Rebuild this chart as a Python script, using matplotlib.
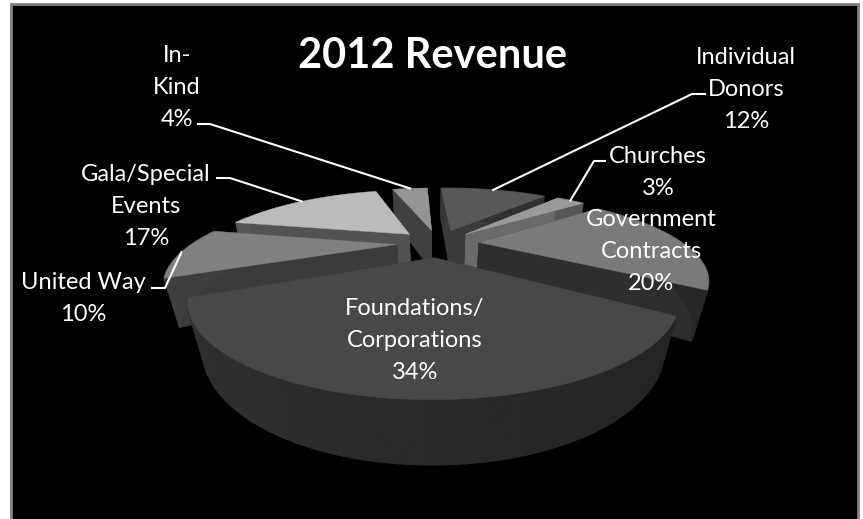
import numpy as np
import matplotlib
matplotlib.use("Agg")
import matplotlib.pyplot as plt
from matplotlib.patches import Polygon, Rectangle

labels = ["Individual\nDonors", "Churches", "Government\nContracts",
          "Foundations/\nCorporations", "United Way", "Gala/Special\nEvents", "In-\nKind"]
shares = [12, 3, 20, 34, 10, 17, 4]

top_colors = ["#585858", "#9a9a9a", "#7a7a7a", "#484848", "#808080", "#bbbbbb", "#959595"]
cut_colors = ["#3a3a3a", "#6a6a6a", "#2e2e2e", "#2c2c2c", "#3b3b3b", "#525252", "#404040"]
rim_colors = ["#3c3c3c", "#6e6e6e", "#343434", "#2e2e2e", "#3b3b3b", "#525252", "#4c4c4c"]

# first baseline of each label, and where its leader line leaves the text
label_x = [746, 658, 651, 415, 83, 146, 177]
label_y = [64, 163, 226, 315, 289, 181, 62]
leader_start = [(705, 94), (605, 161), None, None, (152, 288), (217, 178), (198, 124)]
leader_elbow = [(692, 94), (594, 161), None, None, (165, 288), (230, 178), (210, 124)]

# camera and pie shape
start_angle = -2.5
explode = 0.2
cx, cy = 438, 243
rx, rv = 204, 68
persp = 0.4
depth_h, depth_w = 45, 0.05


def project(x, y, lower=False):
    x = np.asarray(x, float)
    y = np.asarray(y, float)
    w = 1 + persp * y + (depth_w if lower else 0)
    sy = -rv * y + (depth_h if lower else 0)
    return np.column_stack([cx + rx * x / w, cy + sy / w])


def shade(color, factor):
    v = int(color[1:3], 16) * factor
    return (v / 255, v / 255, v / 255)


fig = plt.figure(figsize=(8.63, 5.19), dpi=100, facecolor="white")
ax = fig.add_axes([0, 0, 1, 1])
ax.set_xlim(0, 863)
ax.set_ylim(519, 0)
ax.axis("off")
ax.add_patch(Rectangle((11, 4), 847, 530, fc="black", ec="#808080", lw=2))

edges = start_angle + np.cumsum([0] + shares) * 3.6
mids = (edges[:-1] + edges[1:]) / 2

# back slices are painted first so the nearer ones cover them
order = np.argsort(-np.cos(np.radians(mids)))
for i in order:
    mid = np.radians(mids[i])
    ax0 = explode * np.sin(mid)
    ay0 = explode * np.cos(mid)
    th = np.radians(np.linspace(edges[i], edges[i + 1], int(shares[i] * 3) + 4))
    px = ax0 + np.sin(th)
    py = ay0 + np.cos(th)

    # the two cut faces, farther one first
    cuts = [(px[0], py[0]), (px[-1], py[-1])]
    cuts.sort(key=lambda p: -p[1])
    for ex, ey in cuts:
        top = project([ax0, ex], [ay0, ey])
        low = project([ex, ax0], [ey, ay0], lower=True)
        ax.add_patch(Polygon(np.vstack([top, low]), fc=cut_colors[i], ec=cut_colors[i], lw=0.3))

    # outer rim, split up so the shading can change along it
    for j in range(len(th) - 1):
        if np.cos((th[j] + th[j + 1]) / 2) > 0.3 and i not in (0, 1):
            continue
        top = project(px[j:j + 2], py[j:j + 2])
        low = project(px[j:j + 2][::-1], py[j:j + 2][::-1], lower=True)
        f = 0.9 - 0.16 * np.sin((th[j] + th[j + 1]) / 2)
        c = shade(rim_colors[i], f)
        ax.add_patch(Polygon(np.vstack([top, low]), fc=c, ec=c, lw=1.0))

    outline = project(np.r_[ax0, px], np.r_[ay0, py])
    ax.add_patch(Polygon(outline, fc=top_colors[i], ec=top_colors[i], lw=0.3))

# leader lines end on the middle of each slice's outer edge
for i in range(len(shares)):
    if leader_start[i] is None:
        continue
    mid = np.radians(mids[i])
    end = project((explode + 1) * np.sin(mid), (explode + 1) * np.cos(mid))[0]
    xs = [leader_start[i][0], leader_elbow[i][0], end[0]]
    ys = [leader_start[i][1], leader_elbow[i][1], end[1]]
    ax.plot(xs, ys, color="white", lw=1.5, solid_joinstyle="round")

for i in range(len(shares)):
    lines = labels[i].split("\n") + [f"{shares[i]}%"]
    for n, line in enumerate(lines):
        ax.text(label_x[i], label_y[i] + 32 * n, line, color="white", ha="center", va="baseline",
                family="Lato", fontsize=17)

ax.text(433, 68, "2012 Revenue", color="white", ha="center", va="baseline",
        family="Lato", fontweight="bold", fontsize=30)

fig.savefig("out.png", dpi=100, facecolor="white")
